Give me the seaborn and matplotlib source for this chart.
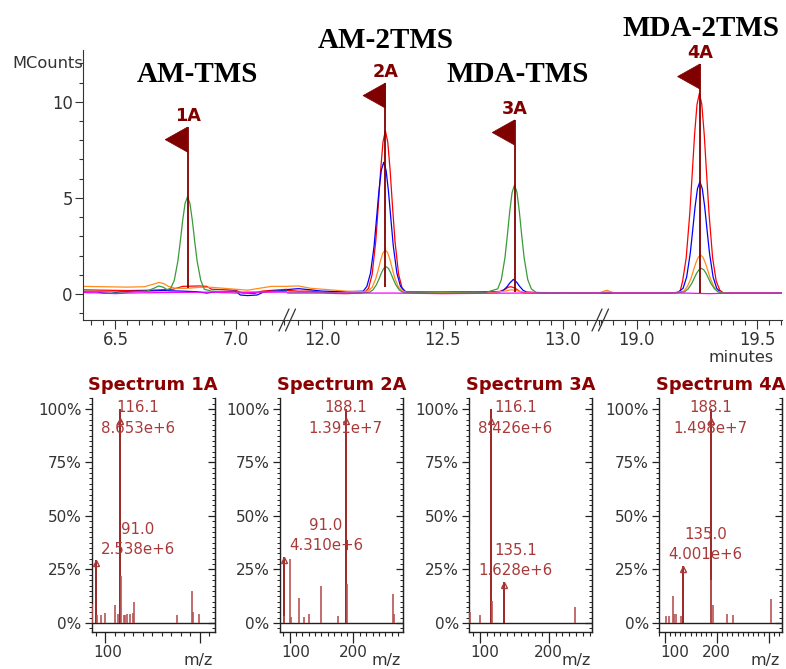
import matplotlib
matplotlib.use('Agg')
import matplotlib.pyplot as plt
import matplotlib.transforms as mtrans
from matplotlib.lines import Line2D
from matplotlib.patches import Polygon
from matplotlib.ticker import MultipleLocator, FixedLocator, NullFormatter, FuncFormatter
import pandas as pd
import seaborn as sns

# ------------------------------------------------------------------ data
peak_labels = ['1A', '2A', '3A', '4A']
compound_names = ['AM-TMS', 'AM-2TMS', 'MDA-TMS', 'MDA-2TMS']
peak_times = [6.800, 12.262, 12.800, 19.262]
flag_top = [8.68, 10.97, 9.05, 11.96]
flag_base = [0.32, 0.35, 0.10, 0.05]

red_points = [(6.36, 0.22), (6.45, 0.20), (6.55, 0.18), (6.65, 0.20), (6.74, 0.25), (6.78, 0.40),
              (6.85, 0.42), (6.88, 0.40), (6.90, 0.25), (7.00, 0.20), (7.03, 0.05), (7.08, 0.03),
              (7.11, 0.15), (7.16, 0.20), (7.22, 0.25),
              (11.84, 0.20), (11.90, 0.15), (11.95, 0.15), (12.00, 0.08), (12.05, 0.03), (12.10, 0.02),
              (12.15, 0.05), (12.175, 0.08), (12.192, 0.30), (12.207, 1.03), (12.222, 2.75), (12.232, 4.50),
              (12.242, 6.40), (12.252, 7.90), (12.262, 8.49), (12.272, 7.90), (12.282, 6.40), (12.292, 4.50),
              (12.302, 2.75), (12.317, 1.03), (12.332, 0.30), (12.35, 0.08), (12.45, 0.08), (12.55, 0.10),
              (12.65, 0.10), (12.72, 0.12), (12.74, 0.14), (12.76, 0.25), (12.775, 0.36), (12.785, 0.38),
              (12.80, 0.32), (12.82, 0.15), (12.84, 0.06), (12.90, 0.05), (13.00, 0.05), (13.17, 0.05),
              (18.84, 0.05), (18.90, 0.05), (19.00, 0.05), (19.10, 0.05), (19.16, 0.06), (19.18, 0.15),
              (19.19, 0.67), (19.205, 1.88), (19.22, 4.20), (19.23, 6.24), (19.24, 8.31), (19.25, 9.86),
              (19.26, 10.44), (19.27, 9.86), (19.28, 8.31), (19.29, 6.24), (19.30, 4.20), (19.315, 1.88),
              (19.33, 0.67), (19.345, 0.20), (19.36, 0.05), (19.45, 0.05), (19.61, 0.05)]

blue_points = [(6.36, 0.12), (6.42, 0.12), (6.45, 0.05), (6.48, 0.03), (6.52, 0.12), (6.60, 0.15),
               (6.70, 0.18), (6.78, 0.15), (6.84, 0.12), (6.88, 0.05), (6.92, 0.12), (7.00, 0.15),
               (7.02, -0.05), (7.05, -0.08), (7.09, -0.05), (7.12, 0.12), (7.22, 0.20),
               (11.84, 0.22), (11.90, 0.28), (11.95, 0.22), (12.00, 0.15), (12.10, 0.12), (12.17, 0.15),
               (12.185, 0.40), (12.20, 1.08), (12.215, 2.50), (12.225, 3.90), (12.235, 5.33), (12.245, 6.43),
               (12.255, 6.85), (12.265, 6.43), (12.275, 5.33), (12.285, 3.90), (12.295, 2.50), (12.31, 1.08),
               (12.325, 0.40), (12.345, 0.12), (12.50, 0.10), (12.65, 0.10), (12.74, 0.12), (12.755, 0.20),
               (12.77, 0.40), (12.78, 0.57), (12.795, 0.76), (12.81, 0.60), (12.82, 0.42), (12.835, 0.20),
               (12.85, 0.10), (12.95, 0.05), (13.17, 0.05),
               (18.84, 0.05), (19.00, 0.05), (19.10, 0.05), (19.17, 0.08), (19.192, 0.30), (19.207, 0.89),
               (19.222, 2.13), (19.232, 3.31), (19.242, 4.54), (19.252, 5.48), (19.262, 5.84), (19.272, 5.48),
               (19.282, 4.54), (19.292, 3.31), (19.302, 2.13), (19.317, 0.89), (19.332, 0.30), (19.35, 0.06),
               (19.45, 0.05), (19.61, 0.05)]

orange_points = [(6.36, 0.40), (6.45, 0.38), (6.55, 0.36), (6.62, 0.38), (6.655, 0.50), (6.68, 0.60),
                 (6.70, 0.55), (6.72, 0.40), (6.75, 0.30), (6.80, 0.30), (6.85, 0.35), (6.90, 0.35),
                 (6.95, 0.30), (7.00, 0.25), (7.05, 0.20), (7.10, 0.30), (7.15, 0.40), (7.22, 0.40),
                 (11.84, 0.40), (11.90, 0.42), (11.95, 0.30), (12.00, 0.25), (12.10, 0.15), (12.17, 0.12),
                 (12.192, 0.17), (12.207, 0.35), (12.222, 0.80), (12.232, 1.25), (12.242, 1.75), (12.252, 2.14),
                 (12.262, 2.29), (12.272, 2.14), (12.282, 1.75), (12.292, 1.25), (12.302, 0.80), (12.317, 0.35),
                 (12.332, 0.17), (12.35, 0.10), (12.50, 0.08), (12.70, 0.08), (12.76, 0.15), (12.785, 0.22),
                 (12.81, 0.18), (12.84, 0.08), (13.00, 0.05), (13.17, 0.05),
                 (18.84, 0.05), (18.86, 0.14), (18.875, 0.20), (18.89, 0.12), (18.91, 0.05), (19.15, 0.05),
                 (19.195, 0.15), (19.21, 0.39), (19.225, 0.82), (19.235, 1.22), (19.245, 1.61), (19.255, 1.91),
                 (19.265, 2.03), (19.275, 1.91), (19.285, 1.61), (19.295, 1.22), (19.305, 0.82), (19.32, 0.39),
                 (19.335, 0.15), (19.355, 0.06), (19.61, 0.05)]

green_points = [(6.36, 0.15), (6.45, 0.12), (6.55, 0.10), (6.63, 0.15), (6.66, 0.30), (6.68, 0.42),
                (6.70, 0.35), (6.715, 0.22), (6.73, 0.30), (6.745, 0.72), (6.76, 1.72), (6.77, 2.74),
                (6.78, 3.84), (6.79, 4.72), (6.80, 5.06), (6.81, 4.72), (6.82, 3.84), (6.83, 2.74),
                (6.84, 1.72), (6.855, 0.72), (6.87, 0.25), (6.90, 0.15), (7.00, 0.10), (7.10, 0.10), (7.22, 0.15),
                (11.84, 0.10), (11.95, 0.10), (12.10, 0.05), (12.195, 0.09), (12.21, 0.21), (12.225, 0.49),
                (12.235, 0.77), (12.245, 1.08), (12.255, 1.33), (12.265, 1.42), (12.275, 1.33), (12.285, 1.08),
                (12.295, 0.77), (12.305, 0.49), (12.32, 0.21), (12.335, 0.09), (12.50, 0.05), (12.68, 0.08),
                (12.73, 0.27), (12.745, 0.75), (12.76, 1.88), (12.77, 3.04), (12.78, 4.29), (12.79, 5.29),
                (12.80, 5.67), (12.81, 5.29), (12.82, 4.29), (12.83, 3.04), (12.84, 1.88), (12.855, 0.75),
                (12.87, 0.27), (12.89, 0.08), (13.17, 0.05),
                (18.84, 0.05), (18.875, 0.10), (18.90, 0.05), (19.15, 0.05), (19.198, 0.11), (19.213, 0.27),
                (19.228, 0.55), (19.238, 0.81), (19.248, 1.07), (19.258, 1.26), (19.268, 1.34), (19.278, 1.26),
                (19.288, 1.07), (19.298, 0.81), (19.308, 0.55), (19.323, 0.27), (19.338, 0.11), (19.36, 0.05),
                (19.61, 0.05)]

magenta_points = [(6.36, 0.08), (6.45, 0.05), (6.50, 0.02), (6.55, 0.05), (6.70, 0.08), (6.90, 0.10),
                  (7.00, 0.05), (7.10, 0.10), (7.22, 0.10), (11.84, 0.05), (12.10, 0.05), (12.30, 0.05),
                  (12.50, 0.02), (12.80, 0.05), (13.17, 0.05), (18.84, 0.05), (19.20, 0.05), (19.30, 0.02),
                  (19.40, 0.05), (19.61, 0.05)]

spectrum_titles = ['Spectrum 1A', 'Spectrum 2A', 'Spectrum 3A', 'Spectrum 4A']

spec1_mz = [86.2, 91.0, 91.9, 96.1, 99.5, 110.1, 113.5, 116.1, 117.2, 119.5, 120.6, 123.4, 125.8,
            129.3, 130.8, 176.1, 191.1, 192.2, 198.8]
spec1_pct = [9.0, 29.3, 3.9, 3.6, 4.8, 8.3, 4.0, 100.0, 21.8, 3.9, 3.6, 4.0, 4.0, 4.7, 9.7, 3.6,
             14.8, 5.1, 4.4]
spec1_annot_mz = [116.1, 91.0]
spec1_annot_counts = ['8.653e+6', '2.538e+6']

spec2_mz = [91.0, 92.0, 100.9, 102.4, 115.2, 122.2, 130.6, 149.2, 176.0, 188.1, 189.5, 261.7, 263.2]
spec2_pct = [31.0, 3.5, 30.0, 3.0, 11.7, 2.8, 4.0, 17.3, 3.3, 100.0, 18.4, 13.7, 4.4]
spec2_annot_mz = [188.1, 91.0]
spec2_annot_counts = ['1.391e+7', '4.310e+6']

spec3_mz = [86.0, 100.4, 116.1, 117.8, 135.1, 238.0]
spec3_pct = [5.1, 3.9, 100.0, 10.3, 19.3, 7.5]
spec3_annot_mz = [116.1, 135.1]
spec3_annot_counts = ['8.426e+6', '1.628e+6']

spec4_mz = [103.6, 108.0, 116.6, 119.0, 121.8, 132.5, 135.0, 188.1, 189.2, 193.5, 219.8, 232.0, 303.8]
spec4_pct = [3.1, 3.5, 12.4, 4.0, 4.0, 3.5, 26.7, 100.0, 20.0, 8.3, 4.4, 3.6, 11.0]
spec4_annot_mz = [188.1, 135.0]
spec4_annot_counts = ['1.498e+7', '4.001e+6']

# ------------------------------------------------------------------ style
sns.set_style('ticks')
plt.rcParams['font.family'] = ['DejaVu Sans']
W, H = 786, 669
fig = plt.figure(figsize=(W / 100, H / 100), dpi=100)
GRAY = '#333333'
MAROON = '#800000'


def rect(l, t, r, b):
    return [l / W, 1 - b / H, (r - l) / W, (b - t) / H]


trace_order = ['red', 'blue', 'orange', 'green', 'magenta']
trace_colors = {'red': '#FF0000', 'blue': '#0000FF', 'orange': '#FF8C1A',
                'green': '#3A9A3A', 'magenta': '#FF00FF'}
trace_points = {'red': red_points, 'blue': blue_points, 'orange': orange_points,
                'green': green_points, 'magenta': magenta_points}
rows = []
for name in trace_order:
    for t, v in trace_points[name]:
        rows.append({'time': t, 'MCounts': v, 'trace': name})
chrom = pd.DataFrame(rows)

# ------------------------------------------------------------------ chromatogram (broken x axis)
seg_px = [(83, 286.7), (286.7, 600), (600, 782)]
seg_lims = [(6.3646, 7.2133), (11.851, 13.156), (18.846, 19.604)]
ylim_top = (-1.35, 12.69)
top_axes = []
for i, ((l, r), lim) in enumerate(zip(seg_px, seg_lims)):
    ax = fig.add_axes(rect(l, 50, r, 320))
    ax.patch.set_alpha(0)
    sns.lineplot(data=chrom, x='time', y='MCounts', hue='trace', hue_order=trace_order,
                 palette=trace_colors, estimator=None, sort=False, legend=False,
                 linewidth=0.9, ax=ax)
    ax.set_xlim(lim)
    ax.set_ylim(ylim_top)
    ax.set_xlabel('')
    ax.set_ylabel('')
    for s in ['top', 'right']:
        ax.spines[s].set_visible(False)
    ax.spines['bottom'].set_color(GRAY)
    ax.spines['left'].set_color(GRAY)
    ax.xaxis.set_major_locator(MultipleLocator(0.5))
    ax.xaxis.set_minor_locator(MultipleLocator(0.05))
    ax.xaxis.set_major_formatter(FuncFormatter(lambda v, p: f'{v:.1f}'))
    ax.tick_params(axis='x', which='major', length=6.5, width=0.8, color=GRAY,
                   labelsize=11.9, labelcolor=GRAY, pad=1.5)
    ax.tick_params(axis='x', which='minor', length=3.6, width=0.8, color=GRAY)
    if i == 0:
        ax.yaxis.set_major_locator(FixedLocator([0, 5, 10]))
        ax.yaxis.set_minor_locator(MultipleLocator(1))
        ax.tick_params(axis='y', which='major', length=5.8, width=0.8, color=GRAY,
                       labelsize=11.9, labelcolor=GRAY, pad=1.5)
        ax.tick_params(axis='y', which='minor', length=2.9, width=0.8, color=GRAY)
    else:
        ax.spines['left'].set_visible(False)
        ax.tick_params(axis='y', which='both', left=False, labelleft=False)
    top_axes.append(ax)

# peak flags
for lab, t, top, base in zip(peak_labels, peak_times, flag_top, flag_base):
    ax = [a for a, lim in zip(top_axes, seg_lims) if lim[0] <= t <= lim[1]][0]
    ax.vlines(t, base, top, color=MAROON, lw=1.3, zorder=6)
    ax.add_patch(Polygon([(t, top), (t, top - 1.3), (t - 0.093, top - 0.65)],
                         closed=True, facecolor=MAROON, edgecolor=MAROON, lw=0.5, zorder=6))
    ax.text(t, top + 0.58, lab, ha='center', va='center', color=MAROON,
            fontsize=12.7, fontweight='bold', zorder=7, clip_on=False)

# compound names (layout positions in pixels)
name_px = [(197, 75), (386, 40), (518, 75), (701, 28)]
for nm, (px, py) in zip(compound_names, name_px):
    fig.text(px / W, 1 - py / H, nm, ha='center', va='center', family='Liberation Serif',
             fontweight='bold', fontsize=21, color='black')

fig.text(83.5 / W, 1 - 63 / H, 'MCounts', ha='right', va='center', fontsize=11.7, color=GRAY)
fig.text(741 / W, 1 - 357.5 / H, 'minutes', ha='center', va='center', fontsize=11.6, color=GRAY)

# break marks
for xb in [287.5, 600.5]:
    for dx in (-3.5, 3.0):
        fig.add_artist(Line2D([(xb + dx - 5) / W, (xb + dx + 5) / W],
                              [1 - 331 / H, 1 - 309 / H], transform=fig.transFigure,
                              color=GRAY, lw=0.9))

# ------------------------------------------------------------------ spectra
spec_px = [(92, 214.5), (280, 402.7), (469.3, 592), (659.3, 781.7)]
spec_lims = [(86.3, 215.3), (85.1, 277.3), (84.9, 262.8), (90.0, 324.5)]
spec_mz = [spec1_mz, spec2_mz, spec3_mz, spec4_mz]
spec_pct = [spec1_pct, spec2_pct, spec3_pct, spec4_pct]
spec_amz = [spec1_annot_mz, spec2_annot_mz, spec3_annot_mz, spec4_annot_mz]
spec_acnt = [spec1_annot_counts, spec2_annot_counts, spec3_annot_counts, spec4_annot_counts]
DARK = '#8B0000'
LIGHT = '#B85454'
ANNOT = '#A83A3A'
SP_TOP, SP_BOT = 398, 632

for k in range(4):
    l, r = spec_px[k]
    xmin, xmax = spec_lims[k]
    ax = fig.add_axes(rect(l, SP_TOP, r, SP_BOT))
    ax.patch.set_alpha(0)
    ax.set_xlim(xmin, xmax)
    ax.set_ylim(-4.2, 105.1)
    mz, pct = spec_mz[k], spec_pct[k]
    cols = [DARK if m in spec_amz[k] else LIGHT for m in mz]
    ax.vlines(mz, 0, pct, colors=cols, lw=1.2, zorder=3)
    ax.axhline(0, color='#222222', lw=1.0, zorder=2)
    ax.spines['top'].set_visible(False)
    for s in ['left', 'right', 'bottom']:
        ax.spines[s].set_color('#222222')
        ax.spines[s].set_linewidth(1.0)
    # y ticks
    ax.yaxis.set_major_locator(FixedLocator([0, 25, 50, 75, 100]))
    ax.yaxis.set_minor_locator(MultipleLocator(2.5))
    ax.yaxis.set_major_formatter(FuncFormatter(lambda v, p: f'{v:.0f}%'))
    ax.tick_params(axis='y', which='major', length=5, width=0.9, color='#222222',
                   labelsize=11, labelcolor=GRAY, pad=2.5)
    ax.tick_params(axis='y', which='minor', length=2, width=0.7, color='#222222')
    sec = ax.secondary_yaxis('right')
    sec.yaxis.set_major_locator(FixedLocator([0, 25, 50, 75, 100]))
    sec.yaxis.set_minor_locator(MultipleLocator(2.5))
    sec.yaxis.set_major_formatter(NullFormatter())
    sec.tick_params(axis='y', which='major', direction='in', length=5, width=0.9, color='#222222')
    sec.tick_params(axis='y', which='minor', direction='in', length=2, width=0.7, color='#222222')
    sec.spines['right'].set_color('#222222')
    # x ticks
    ppu = (r - l) / (xmax - xmin)
    majors = [v for v in (100, 200, 300) if xmin <= v <= xmax]
    labels = [str(v) if v <= xmin + 0.7 * (xmax - xmin) else '' for v in majors]
    ax.set_xticks(majors, labels)
    ax.xaxis.set_minor_locator(MultipleLocator(10))
    ax.tick_params(axis='x', which='major', length=8, width=0.9, color='#222222',
                   labelsize=11, labelcolor=GRAY, pad=1.5)
    ax.tick_params(axis='x', which='minor', length=3, width=0.8, color='#222222')
    hw = 14.6
    for v, lab in zip(majors, ax.get_xticklabels()):
        tpx = l + (v - xmin) * ppu
        if tpx - hw < l + 1:
            dx = (l + 1) - (tpx - hw)
            lab.set_transform(lab.get_transform() +
                              mtrans.ScaledTranslation(dx / 100, 0, fig.dpi_scale_trans))
    ax.text(1 - 1.5 / (r - l), (SP_BOT - 661) / (SP_BOT - SP_TOP), 'm/z', transform=ax.transAxes,
            ha='right', va='center', fontsize=11.4, color=GRAY)
    ax.text(0.5, (SP_BOT - 385.5) / (SP_BOT - SP_TOP), spectrum_titles[k], transform=ax.transAxes,
            ha='center', va='center', fontsize=12.9, fontweight='bold', color=DARK)
    # annotations
    for amz, cnt in zip(spec_amz[k], spec_acnt[k]):
        h = pct[mz.index(amz)]
        px = l + (amz - xmin) * ppu
        px = min(max(px, l + 46), r - 46)
        xd = xmin + (px - l) / ppu
        ax.text(xd, min(h + 14.5, 100.6), f'{amz:.1f}', ha='center', va='center',
                fontsize=10.8, color=ANNOT, zorder=5)
        ax.text(xd, min(h + 5.2, 91.0), cnt, ha='center', va='center',
                fontsize=10.8, color=ANNOT, zorder=5)
        ax.plot([amz], [min(h - 1.5, 94.5)], marker='^', ms=4.5, mfc='none',
                mec=ANNOT, mew=1.0, zorder=6)

fig.savefig('out.png', dpi=100)
